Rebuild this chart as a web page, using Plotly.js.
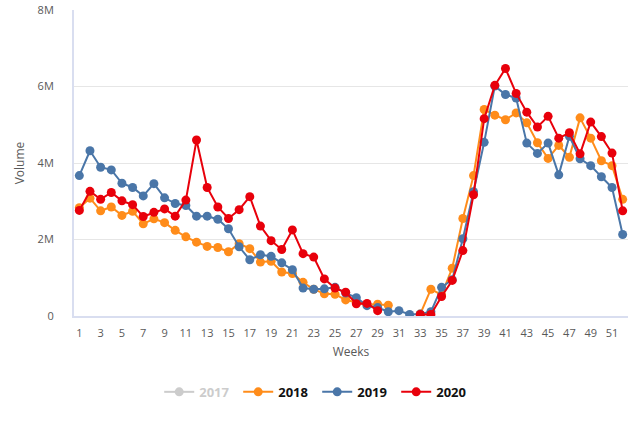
<!DOCTYPE html>
<html>
<head>
<meta charset="utf-8">
<script src="https://cdn.plot.ly/plotly-3.0.1.min.js"></script>
<style>
  html, body { margin: 0; padding: 0; background: #fff; }
  #chart { width: 639px; height: 426px; }
</style>
</head>
<body>
<div id="chart"></div>
<script>
// weeks 1..52, volumes in millions
var weeks = [];
for (var i = 1; i <= 52; i++) weeks.push(i);

// 2017 is switched off in the legend, nothing of it is drawn
var vol2017 = [null];

var vol2018 = [2.83, 3.08, 2.75, 2.85, 2.63, 2.74, 2.41, 2.54, 2.44, 2.24,
               2.07, 1.93, 1.82, 1.79, 1.68, 1.89, 1.76, 1.41, 1.43, 1.15,
               1.11, 0.88, 0.70, 0.58, 0.57, 0.42, 0.36, 0.30, 0.31, 0.28,
               null, null, 0.05, 0.70, 0.55, 1.25, 2.55, 3.67, 5.40, 5.25,
               5.13, 5.31, 5.05, 4.53, 4.12, 4.46, 4.15, 5.18, 4.65, 4.06,
               3.93, 3.05];

var vol2019 = [3.67, 4.32, 3.89, 3.82, 3.47, 3.36, 3.14, 3.46, 3.09, 2.94,
               2.89, 2.61, 2.61, 2.53, 2.28, 1.81, 1.47, 1.60, 1.56, 1.39,
               1.21, 0.73, 0.70, 0.71, 0.75, 0.60, 0.48, 0.27, 0.22, 0.11,
               0.14, 0.04, 0.05, 0.11, 0.75, 0.95, 2.02, 3.25, 4.54, 6.01,
               5.79, 5.70, 4.52, 4.25, 4.52, 3.69, 4.70, 4.11, 3.93, 3.64,
               3.36, 2.13];

var vol2020 = [2.76, 3.26, 3.05, 3.23, 3.01, 2.91, 2.60, 2.71, 2.80, 2.61,
               3.03, 4.60, 3.36, 2.85, 2.55, 2.78, 3.12, 2.35, 1.97, 1.74,
               2.25, 1.63, 1.54, 0.97, 0.73, 0.62, 0.32, 0.33, 0.14, null,
               null, null, 0.04, 0.04, 0.51, 0.93, 1.71, 3.17, 5.16, 6.03,
               6.47, 5.82, 5.33, 4.94, 5.22, 4.65, 4.79, 4.24, 5.07, 4.69,
               4.26, 2.75];

var yTickVals = [0, 2, 4, 6, 8];
var yTickText = ['0', '2M', '4M', '6M', '8M'];

function series(name, y, color, vis) {
  return {
    x: weeks.slice(0, y.length),
    y: y,
    name: name,
    type: 'scatter',
    mode: 'lines+markers',
    line: {color: color, width: 2},
    marker: {color: color, size: 9},
    connectgaps: false,
    visible: vis
  };
}

var data = [
  series('<span style="color:#999">2017</span>', vol2017, '#999999', 'legendonly'),
  series('2018', vol2018, '#ff8c1a', true),
  series('2019', vol2019, '#4a76a8', true),
  series('2020', vol2020, '#e8000b', true)
];

var layout = {
  width: 639,
  height: 426,
  margin: {l: 74, r: 11, t: 10, b: 110, pad: 0},
  paper_bgcolor: '#fff',
  plot_bgcolor: '#fff',
  font: {family: 'Open Sans, sans-serif', size: 11, color: '#595959'},
  showlegend: true,
  xaxis: {
    range: [0.5, 52.5],
    tickmode: 'linear',
    tick0: 1,
    dtick: 2,
    showgrid: false,
    zeroline: false,
    showline: true,
    linecolor: '#d9def0',
    linewidth: 2,
    ticks: '',
    ticklabelstandoff: 6,
    title: {text: 'Weeks', font: {size: 12, color: '#595959'}, standoff: 8}
  },
  yaxis: {
    range: [0, 8],
    tickvals: yTickVals,
    ticktext: yTickText,
    showgrid: true,
    gridcolor: '#e6e6e6',
    zeroline: false,
    showline: true,
    linecolor: '#d9def0',
    linewidth: 2,
    ticks: '',
    ticklabelstandoff: 16,
    title: {text: 'Volume', font: {size: 12, color: '#595959'}, standoff: 10}
  },
  legend: {
    orientation: 'h',
    x: 0.439,
    xanchor: 'center',
    y: -0.248,
    yanchor: 'middle',
    font: {size: 13, color: '#111', weight: 'bold'},
    itemwidth: 30,
    entrywidth: 34,
    entrywidthmode: 'pixels'
  }
};

Plotly.newPlot('chart', data, layout, {displayModeBar: false, staticPlot: true});
</script>
</body>
</html>
